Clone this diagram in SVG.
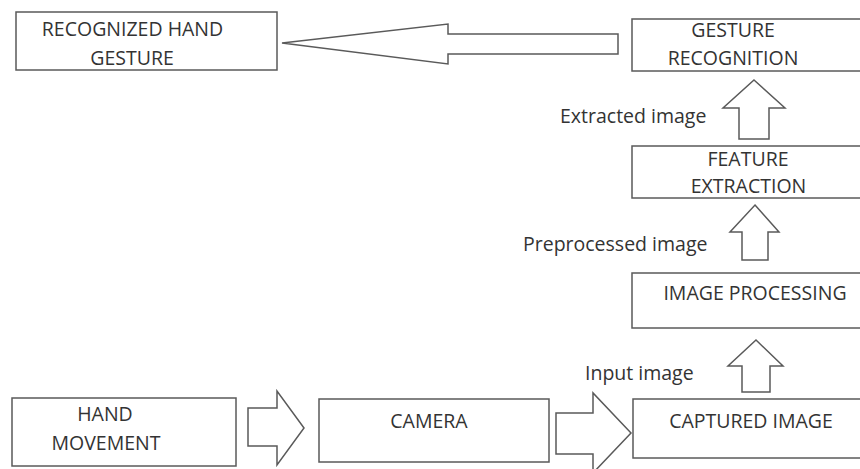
<svg xmlns="http://www.w3.org/2000/svg" width="860" height="469" viewBox="0 0 860 469">
<style>
.box{fill:#fff;stroke:#5a5a5a;stroke-width:1.5}
.arr{fill:#fff;stroke:#5a5a5a;stroke-width:1.5;stroke-linejoin:miter}
text{font-family:"Open Sans","Noto Sans","Liberation Sans",sans-serif;font-size:19.5px;fill:#333}
.c{text-anchor:middle}
</style>
<rect width="860" height="469" fill="#fff"/>
<g id="connectors">
<polygon class="arr" points="282,43 448,24 448,34 618,34 618,54 448,54 448,64"/>
<polygon class="arr" points="754,80 785,108 769,108 769,139 739,139 739,108 723,108"/>
<polygon class="arr" points="755,205 779,232 768,232 768,260 742,260 742,232 730,232"/>
<polygon class="arr" points="756,340 783,366 770,366 770,392 742,392 742,366 728,366"/>
<polygon class="arr" points="304,428 277,391 277,408 248,408 248,446 277,446 277,465"/>
<polygon class="arr" points="631,433 593,393 593,413 556,413 556,454 593,454 593,473"/>
<text x="560" y="123">Extracted image</text>
<text x="523" y="251">Preprocessed image</text>
<text x="585" y="380">Input image</text>
</g>
<g id="recognized">
<rect class="box" x="16" y="12" width="261" height="58"/>
<text class="c" x="132.5" y="36">RECOGNIZED HAND</text>
<text class="c" x="132" y="65">GESTURE</text>
</g>
<g id="gesture-recognition">
<rect class="box" x="632" y="19" width="240" height="52"/>
<text class="c" x="733" y="37">GESTURE</text>
<text class="c" x="733" y="65">RECOGNITION</text>
</g>
<g id="feature-extraction">
<rect class="box" x="632" y="146" width="240" height="52"/>
<text class="c" x="748" y="166">FEATURE</text>
<text class="c" x="748.5" y="193">EXTRACTION</text>
</g>
<g id="image-processing">
<rect class="box" x="632" y="273" width="240" height="55"/>
<text class="c" x="755" y="300">IMAGE PROCESSING</text>
</g>
<g id="captured-image">
<rect class="box" x="633" y="399" width="240" height="59"/>
<text class="c" x="751" y="428">CAPTURED IMAGE</text>
</g>
<g id="camera">
<rect class="box" x="319" y="399" width="230" height="63"/>
<text class="c" x="429" y="428">CAMERA</text>
</g>
<g id="hand-movement">
<rect class="box" x="12" y="398" width="224" height="68"/>
<text class="c" x="105" y="421">HAND</text>
<text class="c" x="106" y="450">MOVEMENT</text>
</g>
</svg>
